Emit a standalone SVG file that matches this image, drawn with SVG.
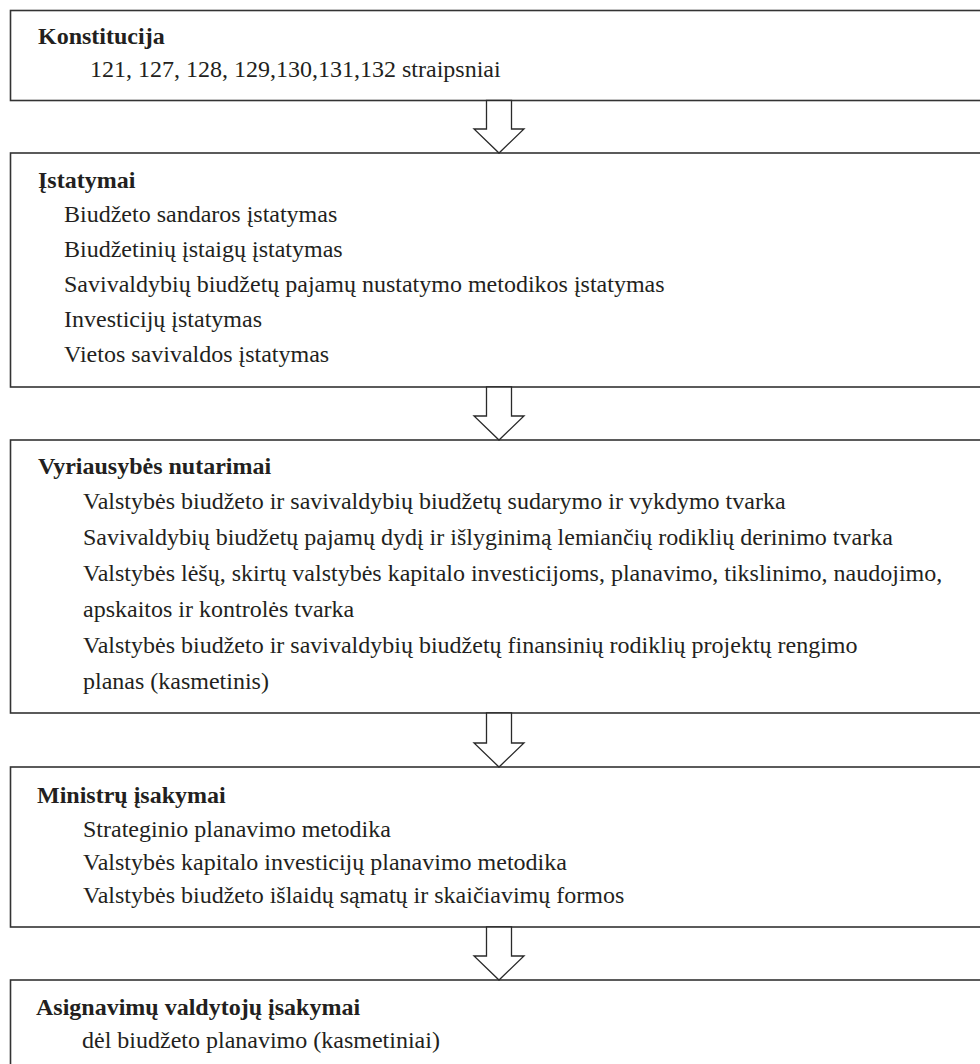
<svg xmlns="http://www.w3.org/2000/svg" width="980" height="1064" viewBox="0 0 980 1064">
  <defs>
    <style>
      .box { fill: #ffffff; stroke: #333333; stroke-width: 1.6; }
      .arrow { fill: #ffffff; stroke: #2a2a2a; stroke-width: 1.3; stroke-linejoin: miter; }
      text { font-family: "Liberation Serif", "Times New Roman", serif; font-size: 24px; fill: #231f20; }
      .head { font-weight: bold; }
    </style>
  </defs>
  <rect x="0" y="0" width="980" height="1064" fill="#ffffff"/>

  <!-- Level 1 -->
  <g id="konstitucija">
    <rect class="box" x="10.5" y="10.5" width="1000" height="90"/>
    <text class="head" x="38" y="44">Konstitucija</text>
    <text x="90" y="77">121, 127, 128, 129,130,131,132 straipsniai</text>
  </g>

  <!-- Level 2 -->
  <g id="istatymai">
    <rect class="box" x="10.5" y="153" width="1000" height="234"/>
    <text class="head" x="38" y="188">Įstatymai</text>
    <text x="64" y="222">Biudžeto sandaros įstatymas</text>
    <text x="64" y="257">Biudžetinių įstaigų įstatymas</text>
    <text x="64" y="292">Savivaldybių biudžetų pajamų nustatymo metodikos įstatymas</text>
    <text x="64" y="327">Investicijų įstatymas</text>
    <text x="64" y="362">Vietos savivaldos įstatymas</text>
  </g>

  <!-- Level 3 -->
  <g id="vyriausybes-nutarimai">
    <rect class="box" x="10.5" y="440" width="1000" height="273"/>
    <text class="head" x="38" y="474">Vyriausybės nutarimai</text>
    <text x="83" y="509">Valstybės biudžeto ir savivaldybių biudžetų sudarymo ir vykdymo tvarka</text>
    <text x="83" y="545">Savivaldybių biudžetų pajamų dydį ir išlyginimą lemiančių rodiklių derinimo tvarka</text>
    <text x="83" y="581">Valstybės lėšų, skirtų valstybės kapitalo investicijoms, planavimo, tikslinimo, naudojimo,</text>
    <text x="83" y="617">apskaitos ir kontrolės tvarka</text>
    <text x="83" y="653">Valstybės biudžeto ir savivaldybių biudžetų finansinių rodiklių projektų rengimo</text>
    <text x="83" y="689">planas (kasmetinis)</text>
  </g>

  <!-- Level 4 -->
  <g id="ministru-isakymai">
    <rect class="box" x="10.5" y="767" width="1000" height="160"/>
    <text class="head" x="37" y="803">Ministrų įsakymai</text>
    <text x="83" y="837">Strateginio planavimo metodika</text>
    <text x="83" y="870">Valstybės kapitalo investicijų planavimo metodika</text>
    <text x="83" y="903">Valstybės biudžeto išlaidų sąmatų ir skaičiavimų formos</text>
  </g>

  <!-- Level 5 -->
  <g id="asignavimu-valdytoju-isakymai">
    <rect class="box" x="10.5" y="980" width="1000" height="120"/>
    <text class="head" x="36" y="1015">Asignavimų valdytojų įsakymai</text>
    <text x="82" y="1048">dėl biudžeto planavimo (kasmetiniai)</text>
  </g>

  <!-- Hollow block arrows between levels -->
  <g id="connectors">
    <polygon class="arrow" points="486.5,100.5 511.5,100.5 511.5,129 524,129 499,153 474,129 486.5,129"/>
    <polygon class="arrow" points="486.5,387 511.5,387 511.5,416 524,416 499,440 474,416 486.5,416"/>
    <polygon class="arrow" points="486.5,713 511.5,713 511.5,743 524,743 499,767 474,743 486.5,743"/>
    <polygon class="arrow" points="486.5,927 511.5,927 511.5,956 524,956 499,980 474,956 486.5,956"/>
  </g>
</svg>
